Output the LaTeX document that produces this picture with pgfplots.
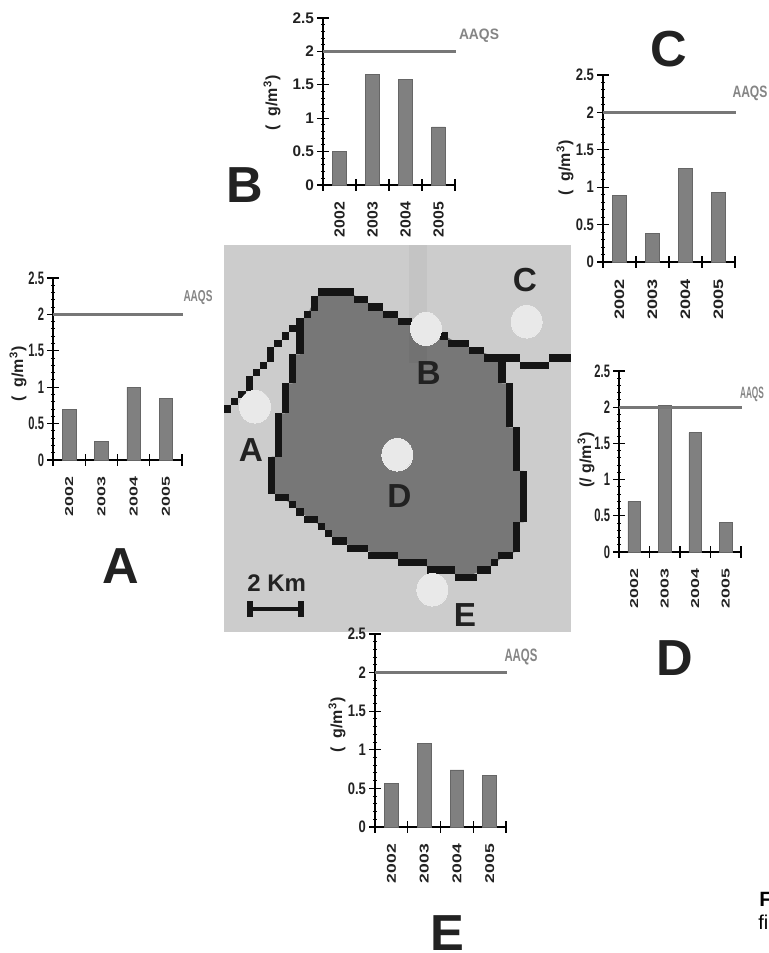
\documentclass[border=0pt]{standalone}
\usepackage{fontspec}
\setmainfont{Liberation Sans}
\newfontfamily\wideA[FakeStretch=1.55]{Liberation Sans}
\newfontfamily\wideB[FakeStretch=1.08]{Liberation Sans}
\newfontfamily\wideC[FakeStretch=1.32]{Liberation Sans}
\newfontfamily\wideE[FakeStretch=1.37]{Liberation Sans}
\newfontfamily\cond[FakeStretch=0.62]{Liberation Sans}
\newfontfamily\condC[FakeStretch=0.78]{Liberation Sans}
\usepackage{pgfplots}
\pgfplotsset{compat=1.18}
\definecolor{mapbg}{HTML}{CCCCCC}
\definecolor{blob}{HTML}{777777}
\definecolor{ink}{HTML}{151515}
\definecolor{lett}{HTML}{222222}
\definecolor{spot}{HTML}{E9E9E9}
\definecolor{barf}{HTML}{808080}
\definecolor{bard}{HTML}{666666}
\definecolor{lim}{HTML}{777777}
\newcommand\rc[4]{\addplot[ink,fill=ink,draw=none,forget plot] coordinates {(#1,#2)(#3,#2)(#3,#4)(#1,#4)} --cycle;}
\newcommand\aaqs[4]{\node[text=black!48,inner sep=0pt] at (axis cs:#1,#2) {\resizebox{#3bp}{#4bp}{\bfseries AAQS}};}
\newcommand\ylab[3]{\node[rotate=90,font=\fontsize{12bp}{12bp}\selectfont\bfseries,text=lett,inner sep=0pt] at (axis cs:#1,#2) {#3};}
% left, right, y0, ytop, coordinates, year font, y tick font
\newcommand\chart[7]{%
\pgfmathsetlengthmacro\cw{(#2-#1)*0.75bp}%
\pgfmathsetlengthmacro\ch{(#3-#4)*0.75bp}%
\pgfmathsetlengthmacro\cx{#1*0.75bp}%
\pgfmathsetlengthmacro\cy{(953-#3)*0.75bp}%
\begin{axis}[at={(\cx,\cy)},anchor=south west,scale only axis,width=\cw,height=\ch,
  xmin=0,xmax=4,ymin=0,ymax=2.5,clip=false,
  axis x line=bottom,axis y line=left,axis line style={-,line width=0.8bp,black},
  tick style={black,line width=0.8bp},tick align=center,
  major tick length=8.5bp,minor tick length=3bp,
  minor y tick num=4,minor x tick num=0,
  xtick={0,1,2,3,4},x tick label as interval,xticklabels={2002,2003,2004,2005,},
  ytick={0,0.5,1,1.5,2,2.5},yticklabels={0,0.5,1,1.5,2,2.5},
  xticklabel style={rotate=90,anchor=east,font=#6\bfseries,color=lett},
  xticklabel shift=5bp,
  yticklabel style={font=#7\bfseries,color=lett},
  yticklabel shift=-1bp]
\addplot[ybar,bar width=0.42,bar shift=0pt,fill=barf,draw=bard,line width=0.5bp] coordinates {#5};
\addplot[lim,line width=2.5bp] coordinates {(0,2)(4.03,2)};
\end{axis}}
\begin{document}
\begin{tikzpicture}
\useasboundingbox (0,0) rectangle (576.75bp,714.75bp);
% page-wide axis in image pixels: letters and captions
\begin{axis}[at={(0,0)},anchor=south west,scale only axis,width=576.75bp,height=714.75bp,
  xmin=0,xmax=769,ymin=0,ymax=953,y dir=reverse,hide axis,clip=false]
\addplot[draw=none,forget plot] coordinates {(0,0)(769,953)};
\foreach \l/\x/\y in {A/121/566,B/245/185,C/669/49,D/675/658,E/447/933}{
  \edef\tmp{\noexpand\node[font=\noexpand\fontsize{38bp}{38bp}\noexpand\selectfont\noexpand\bfseries,text=lett,inner sep=0pt] at (axis cs:\x,\y) {\l};}\tmp}
\aaqs{198}{298}{21.75}{8.25}
\aaqs{479}{36}{30}{7.9}
\aaqs{750}{93}{26.25}{8.6}
\aaqs{752}{394}{18}{8.6}
\aaqs{521}{657}{24.75}{9.4}
\ylab{18}{374}{(\ \ g/m\textsuperscript{3})}
\ylab{272}{103}{(\ \ g/m\textsuperscript{3})}
\ylab{565}{168}{(\ \ g/m\textsuperscript{3})}
\ylab{586}{460}{(/ g/m\textsuperscript{3})}
\ylab{337}{725}{(\ \ g/m\textsuperscript{3})}
\node[anchor=west,inner sep=0pt,font=\fontsize{15.5bp}{15.5bp}\selectfont\bfseries] at (axis cs:759,899) {F};
\node[anchor=west,inner sep=0pt,font=\fontsize{15bp}{15bp}\selectfont] at (axis cs:758,922) {fi};
\end{axis}
% map, in units of 1/3 pixel
\begin{axis}[at={(168bp,240.75bp)},anchor=south west,scale only axis,width=260.25bp,height=290.25bp,
  xmin=27,xmax=1068,ymin=30,ymax=1191,y dir=reverse,hide axis,clip=true]
\addplot[fill=mapbg,draw=none,forget plot] coordinates {(27,30)(1068,30)(1068,1191)(27,1191)} --cycle;
\addplot[fill=blob,draw=none,forget plot] coordinates {(320,172)(405,172)(440,195)(480,216)(525,238)(570,260)(640,282)(690,303)(730,325)(785,347)(860,370)(860,445)(882,445)(882,577)(904,577)(904,708)(926,708)(926,862)(904,862)(904,950)(870,960)(840,985)(805,1005)(750,1027)(680,1005)(590,983)(500,960)(430,940)(370,918)(340,896)(320,874)(285,852)(255,830)(233,810)(200,787)(170,770)(170,665)(190,665)(190,535)(210,535)(210,445)(233,445)(233,358)(255,358)(255,260)(277,240)(300,190)} --cycle;
\addplot[fill=black,fill opacity=0.04,draw=none,forget plot] coordinates {(583,30)(635,30)(635,385)(583,385)} --cycle;
\rc{310}{160}{417}{183}\rc{417}{183}{460}{205}\rc{460}{205}{504}{227}\rc{504}{227}{548}{248}
\rc{548}{248}{590}{270}\rc{590}{270}{675}{292}\rc{675}{292}{698}{314}\rc{698}{314}{763}{336}
\rc{763}{336}{807}{358}\rc{807}{358}{915}{380}\rc{850}{380}{872}{445}\rc{915}{380}{1002}{402}
\rc{1002}{358}{1068}{380}\rc{872}{445}{893}{577}\rc{893}{577}{915}{708}\rc{915}{708}{937}{862}
\rc{893}{862}{915}{950}\rc{850}{950}{893}{972}\rc{828}{972}{850}{994}\rc{785}{994}{828}{1016}
\rc{720}{1016}{785}{1038}\rc{635}{994}{720}{1016}\rc{548}{972}{635}{994}\rc{460}{950}{548}{972}
\rc{396}{929}{460}{950}\rc{352}{907}{396}{929}\rc{330}{885}{352}{907}\rc{309}{863}{330}{885}
\rc{266}{842}{309}{863}\rc{244}{820}{266}{842}\rc{222}{798}{244}{820}\rc{180}{776}{222}{798}
\rc{158}{665}{180}{776}\rc{180}{535}{200}{665}\rc{200}{445}{222}{535}\rc{222}{358}{244}{445}
\rc{244}{250}{266}{358}\rc{222}{270}{266}{292}\rc{266}{228}{288}{250}\rc{288}{183}{310}{228}
\rc{200}{292}{222}{314}\rc{178}{314}{200}{336}\rc{157}{336}{178}{380}\rc{135}{380}{157}{402}
\rc{113}{402}{135}{424}\rc{92}{424}{113}{467}\rc{70}{467}{92}{489}\rc{48}{489}{70}{511}\rc{27}{511}{48}{533}
\rc{100}{1117}{262}{1127}\rc{96}{1099}{114}{1146}\rc{248}{1099}{266}{1146}
\addplot[only marks,color=spot,mark=*,mark size=11.6bp,mark options={fill=spot,draw=spot,line width=0pt,yscale=1.06},forget plot] coordinates {(120,515)(633,282)(935,260)(547,659)(652,1064)};
\node[font=\fontsize{25bp}{25bp}\selectfont\bfseries,text=lett,inner sep=0pt] at (axis cs:108,645) {A};
\node[font=\fontsize{25bp}{25bp}\selectfont\bfseries,text=lett,inner sep=0pt] at (axis cs:641,413) {B};
\node[font=\fontsize{25bp}{25bp}\selectfont\bfseries,text=lett,inner sep=0pt] at (axis cs:930,135) {C};
\node[font=\fontsize{25bp}{25bp}\selectfont\bfseries,text=lett,inner sep=0pt] at (axis cs:553,782) {D};
\node[font=\fontsize{25bp}{25bp}\selectfont\bfseries,text=lett,inner sep=0pt] at (axis cs:750,1140) {E};
\node[font=\fontsize{18bp}{18bp}\selectfont\bfseries,text=lett,inner sep=0pt] at (axis cs:185,1045) {2 Km};
\end{axis}
\chart{53}{182}{460}{278}{(0.5,0.7)(1.5,0.25)(2.5,1.0)(3.5,0.85)}{\wideA\fontsize{8.6bp}{10bp}\selectfont}{\cond\fontsize{13.5bp}{14bp}\selectfont}
\chart{323}{455}{185}{18}{(0.5,0.5)(1.5,1.65)(2.5,1.58)(3.5,0.87)}{\wideB\fontsize{11bp}{11bp}\selectfont}{\fontsize{11.5bp}{12bp}\selectfont}
\chart{603}{735}{262}{75}{(0.5,0.89)(1.5,0.38)(2.5,1.25)(3.5,0.93)}{\wideC\fontsize{10.3bp}{10bp}\selectfont}{\condC\fontsize{12.5bp}{13bp}\selectfont}
\chart{619}{741}{552}{371}{(0.5,0.7)(1.5,2.02)(2.5,1.65)(3.5,0.41)}{\wideA\fontsize{8.6bp}{10bp}\selectfont}{\cond\fontsize{13.5bp}{14bp}\selectfont}
\chart{375}{506}{827}{634}{(0.5,0.56)(1.5,1.08)(2.5,0.74)(3.5,0.67)}{\wideE\fontsize{9.6bp}{10bp}\selectfont}{\condC\fontsize{12.5bp}{13bp}\selectfont}
\end{tikzpicture}
\end{document}
